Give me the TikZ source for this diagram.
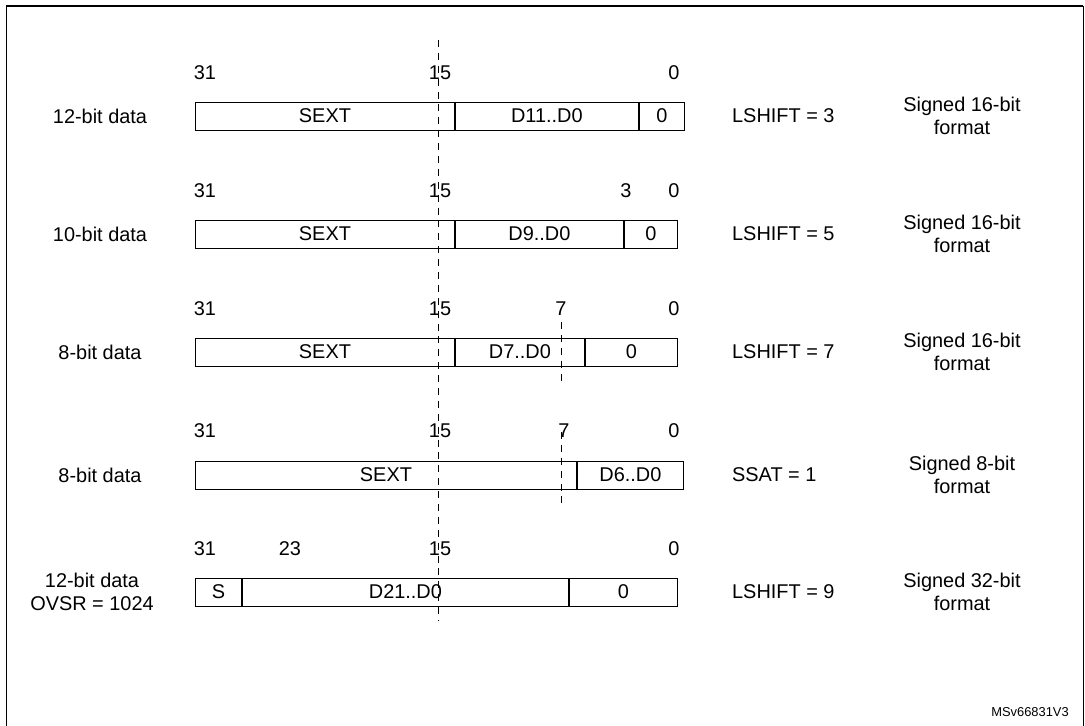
\documentclass[tikz,border=0pt]{standalone}
\usepackage{fontspec}
\setmainfont{Liberation Sans}
\usetikzlibrary{positioning}
\tikzset{
  field/.style={draw,thick,inner sep=0pt,minimum height=0.84cm,anchor=west},
  bit/.style={font=\fontsize{17}{20}\selectfont},
  lbl/.style={font=\fontsize{17}{20}\selectfont,align=center},
  guide/.style={dashed,thick,dash pattern=on 6pt off 5pt}
}
\begin{document}
\begin{tikzpicture}[x=0.03cm,y=-0.03cm,every node/.style={font=\fontsize{17}{20}\selectfont}]
  \useasboundingbox (0,0) rectangle (1085,726);
  \draw[thick] (6,726) -- (6,6) -- (1083,6) -- (1083,726);
  \draw[line width=1.5pt] (6,6) -- (1083,6);

  % row 1
  \node[field,minimum width=259*0.03cm] (s1) at (195,116) {SEXT};
  \node[field,minimum width=183*0.03cm] (d1) at (s1.east) {D11..D0};
  \node[field,minimum width=45*0.03cm] (z1) at (d1.east) {0};
  % row 2
  \node[field,minimum width=259*0.03cm] (s2) at (195,234) {SEXT};
  \node[field,minimum width=168*0.03cm] (d2) at (s2.east) {D9..D0};
  \node[field,minimum width=53*0.03cm] (z2) at (d2.east) {0};
  % row 3
  \node[field,minimum width=259*0.03cm] (s3) at (195,352) {SEXT};
  \node[field,minimum width=129*0.03cm] (d3) at (s3.east) {D7..D0};
  \node[field,minimum width=92*0.03cm] (z3) at (d3.east) {0};
  % row 4
  \node[field,minimum width=381*0.03cm] (s4) at (195,475) {SEXT};
  \node[field,minimum width=106*0.03cm] (d4) at (s4.east) {D6..D0};
  % row 5
  \node[field,minimum width=46*0.03cm] (b5) at (195,592) {S};
  \node[field,minimum width=326*0.03cm] (s5) at (b5.east) {D21..D0};
  \node[field,minimum width=108*0.03cm] (z5) at (s5.east) {0};

  % bit numbers
  \foreach \y/\r in {73/1,191/2,309/3,431/4,549/5}{
    \node[bit] (a\r) at (205,\y) {31};
    \node[bit] (m\r) at (440,\y) {15};
  }
  \node[bit] (e1) at (674,73) {0};
  \node[bit] (e2) at (674,191) {0};
  \node[bit] (t2) at (626,191) {3};
  \node[bit] (e3) at (674,309) {0};
  \node[bit] (n3) at (561,309) {7};
  \node[bit] (e4) at (674,431) {0};
  \node[bit] (n4) at (564,431) {7};
  \node[bit] (e5) at (674,549) {0};
  \node[bit] (w5) at (290,549) {23};

  % guide lines
  \coordinate (g1) at (438,40);
  \coordinate (g2) at (438,620);
  \draw[guide] (g1) -- (g2);
  \coordinate (h1) at (561,322);
  \coordinate (h2) at (561,382);
  \draw[guide] (h1) -- (h2);
  \coordinate (k1) at (561,432);
  \coordinate (k2) at (561,505);
  \draw[guide] (k1) -- (k2);

  % left labels
  \node[lbl] (l1) at (100,116) {12-bit data};
  \node[lbl] (l2) at (100,234) {10-bit data};
  \node[lbl] (l3) at (100,352) {8-bit data};
  \node[lbl] (l4) at (100,475) {8-bit data};
  \node[lbl] (l5) at (92,592) {12-bit data\\OVSR = 1024};

  % shift settings
  \node[lbl,anchor=west] (r1) at (728,116) {LSHIFT = 3};
  \node[lbl,anchor=west] (r2) at (728,234) {LSHIFT = 5};
  \node[lbl,anchor=west] (r3) at (728,352) {LSHIFT = 7};
  \node[lbl,anchor=west] (r4) at (728,475) {SSAT = 1};
  \node[lbl,anchor=west] (r5) at (728,592) {LSHIFT = 9};

  % formats
  \node[lbl] (f1) at (962,116) {Signed 16-bit\\format};
  \node[lbl] (f2) at (962,234) {Signed 16-bit\\format};
  \node[lbl] (f3) at (962,352) {Signed 16-bit\\format};
  \node[lbl] (f4) at (962,475) {Signed 8-bit\\format};
  \node[lbl] (f5) at (962,592) {Signed 32-bit\\format};

  \node[font=\fontsize{11}{13}\selectfont] (ref) at (1030,712) {MSv66831V3};
\end{tikzpicture}
\end{document}
